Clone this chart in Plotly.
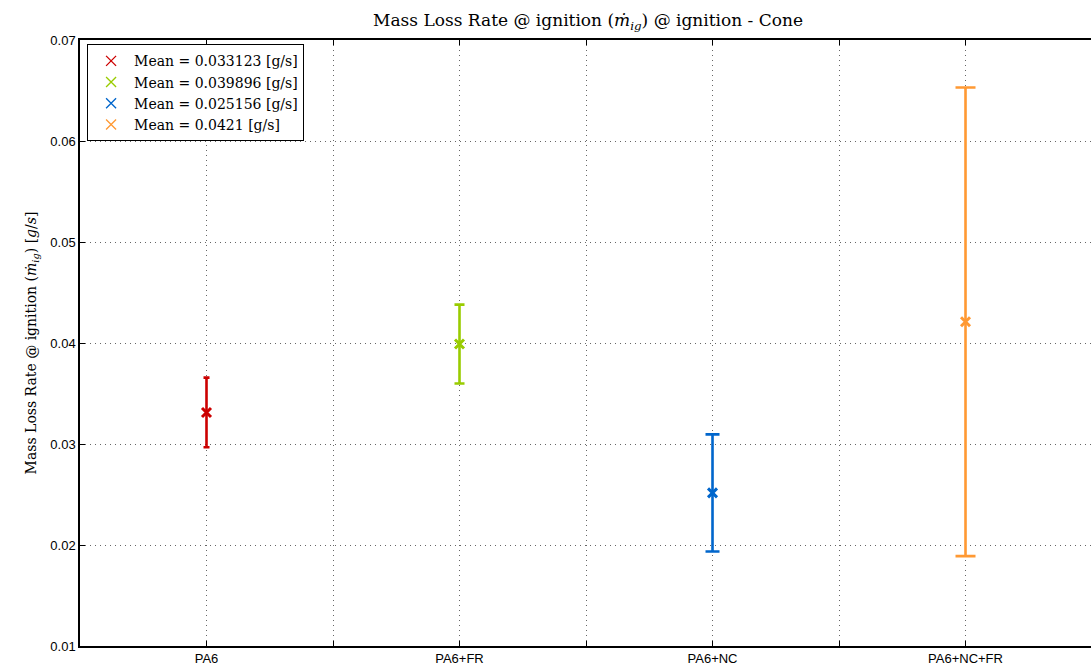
import plotly.graph_objects as go

categories = ["PA6", "PA6+FR", "PA6+NC", "PA6+NC+FR"]
means = [0.033123, 0.039896, 0.025156, 0.0421]
errors = [0.00345, 0.0039, 0.0058, 0.0232]
colors = ["#CC0000", "#99CC00", "#0066CC", "#FF9933"]
cap_half = [3, 5, 7, 10]
legend_labels = ["Mean = 0.033123 [g/s]", "Mean = 0.039896 [g/s]",
                 "Mean = 0.025156 [g/s]", "Mean = 0.0421 [g/s]"]
y_ticks = [0.01, 0.02, 0.03, 0.04, 0.05, 0.06, 0.07]

serif = "DejaVu Serif, Liberation Serif, serif"
sans = "Liberation Sans, Arial, sans-serif"

fig = go.Figure()
xpos = list(range(len(categories)))
for i in range(len(categories)):
    fig.add_trace(go.Scatter(
        x=[xpos[i]], y=[means[i]], mode="markers", showlegend=False,
        marker=dict(symbol="x-thin", size=9, color=colors[i],
                    line=dict(color=colors[i], width=3)),
        error_y=dict(type="data", array=[errors[i]], visible=True,
                     color=colors[i], thickness=2.6, width=cap_half[i]),
    ))
for i in range(len(categories)):
    fig.add_trace(go.Scatter(
        x=[None], y=[None], mode="markers", name=legend_labels[i],
        marker=dict(symbol="x-thin", size=10, color=colors[i],
                    line=dict(color=colors[i], width=1.3)),
    ))

grid_dash = "1px,4px"
grid_color = "#666666"

fig.update_layout(
    width=1091, height=666,
    margin=dict(l=80, r=0, t=40, b=18),
    paper_bgcolor="white", plot_bgcolor="white",
    title=dict(text="Mass Loss Rate @ ignition (<i>ṁ</i><sub><i>ig</i></sub>) @ ignition - Cone",
               x=0.539, xanchor="center", y=0.97, yanchor="middle",
               font=dict(family=serif, size=17, color="black")),
    showlegend=True,
    legend=dict(x=0.007, y=0.993, xanchor="left", yanchor="top",
                bgcolor="white", bordercolor="black", borderwidth=1,
                font=dict(family=serif, size=14, color="black"),
                tracegroupgap=0, itemwidth=36),
    xaxis=dict(range=[-0.5, 3.496], tickvals=xpos, ticktext=categories,
               showgrid=True, gridcolor=grid_color, griddash=grid_dash, gridwidth=1,
               minor=dict(tickvals=[0.5, 1.5, 2.5], ticks="inside", ticklen=5,
                          tickcolor="black", tickwidth=1, showgrid=True,
                          gridcolor=grid_color, griddash=grid_dash, gridwidth=1),
               showline=True, linecolor="black", linewidth=1.5, mirror="ticks",
               ticks="inside", ticklen=5, tickcolor="black", tickwidth=1,
               zeroline=False,
               tickfont=dict(family=sans, size=13, color="black")),
    yaxis=dict(range=[0.01, 0.07], tickvals=y_ticks, tickformat=".2f",
               showgrid=True, gridcolor=grid_color, griddash=grid_dash, gridwidth=1,
               showline=True, linecolor="black", linewidth=1.5, mirror=False,
               ticks="inside", ticklen=5, tickcolor="black", tickwidth=1,
               zeroline=False,
               tickfont=dict(family=sans, size=13, color="black"),
               title=dict(text="Mass Loss Rate @ ignition (<i>ṁ</i><sub><i>ig</i></sub>) [<i>g</i>/<i>s</i>]",
                          font=dict(family=serif, size=14, color="black"),
                          standoff=10)),
)

fig.write_html("out.html")
